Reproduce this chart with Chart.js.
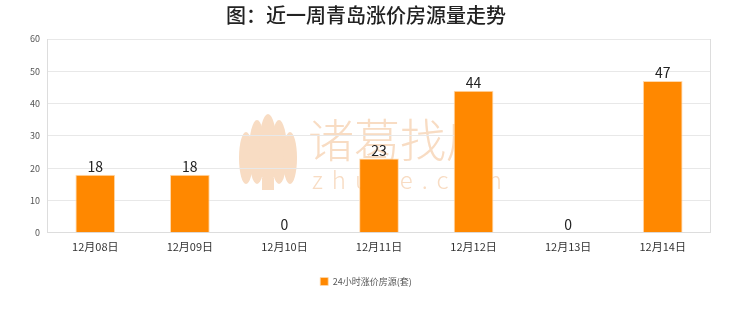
<!DOCTYPE html>
<html lang="zh">
<head>
  <meta charset="UTF-8" />
  <title>近一周青岛涨价房源量走势</title>
  <script src="https://cdn.jsdelivr.net/npm/chart.js"></script>
  <style>
    body { margin: 0; background: #fff; }
  </style>
</head>
<body>
  <canvas id="c" width="740" height="312"></canvas>
<script>
  const days = ['12月08日', '12月09日', '12月10日', '12月11日', '12月12日', '12月13日', '12月14日'];
  const counts = [18, 18, 0, 23, 44, 0, 47];
  const yTicks = [0, 10, 20, 30, 40, 50, 60];

  const font = '"Noto Sans CJK SC", "Noto Sans", sans-serif';

  // faint site watermark behind the plot
  const watermark = {
    id: 'watermark',
    beforeDraw(chart) {
      const ctx = chart.ctx;
      ctx.save();
      ctx.fillStyle = '#f8dcc3';
      // petals
      [[-22, 8, 7, 26], [-11, 2, 8, 32], [0, 0, 9, 36], [11, 2, 8, 32], [22, 8, 7, 26]].forEach(p => {
        ctx.beginPath();
        ctx.ellipse(268 + p[0], 150 + p[1], p[2], p[3], 0, 0, Math.PI * 2);
        ctx.fill();
      });
      ctx.fillRect(262, 178, 12, 12);
      ctx.font = '300 46px ' + font;
      ctx.textAlign = 'left';
      ctx.textBaseline = 'middle';
      ctx.fillText('诸葛找房', 308, 140);
      ctx.font = '300 24px ' + font;
      ctx.letterSpacing = '9px';
      ctx.fillText('zhuge.com', 312, 180);
      ctx.restore();
    }
  };

  // value labels above each bar
  const valueLabels = {
    id: 'valueLabels',
    afterDatasetsDraw(chart) {
      const ctx = chart.ctx;
      const meta = chart.getDatasetMeta(0);
      ctx.save();
      ctx.font = '14px ' + font;
      ctx.fillStyle = '#222';
      ctx.textAlign = 'center';
      ctx.textBaseline = 'bottom';
      meta.data.forEach((bar, i) => {
        ctx.fillText(String(counts[i]), bar.x, bar.y - 1);
      });
      ctx.restore();
    }
  };

  new Chart(document.getElementById('c'), {
    type: 'bar',
    data: {
      labels: days,
      datasets: [{
        label: '24小时涨价房源(套)',
        data: counts,
        backgroundColor: '#ff8800',
        borderColor: '#ffd9ad',
        borderWidth: { left: 1, right: 1, top: 1, bottom: 0 },
        barPercentage: 0.42,
        categoryPercentage: 1
      }]
    },
    options: {
      responsive: false,
      animation: false,
      devicePixelRatio: 1,
      layout: { padding: { left: 22, right: 30, top: 0, bottom: 16 } },
      plugins: {
        title: {
          display: true,
          text: '图：近一周青岛涨价房源量走势',
          color: '#222',
          font: { family: font, size: 20, weight: '500' },
          padding: { top: 3, bottom: 12 }
        },
        legend: {
          position: 'bottom',
          labels: {
            boxWidth: 8,
            boxHeight: 8,
            color: '#555',
            font: { family: font, size: 9 },
            padding: 17
          }
        },
        tooltip: { enabled: false }
      },
      scales: {
        x: {
          grid: { display: false, drawTicks: false },
          border: { color: '#ddd' },
          ticks: { color: '#333', font: { family: font, size: 11 }, padding: 7 }
        },
        y: {
          min: 0,
          max: 60,
          afterBuildTicks(axis) { axis.ticks = yTicks.map(v => ({ value: v })); },
          grid: { color: '#e8e8e8', drawTicks: false },
          border: { color: '#ddd' },
          ticks: { color: '#555', font: { family: font, size: 9 }, padding: 8 }
        }
      }
    },
    plugins: [watermark, valueLabels, {
      id: 'rightBorder',
      afterDraw(chart) {
        const a = chart.chartArea, ctx = chart.ctx;
        ctx.save();
        ctx.strokeStyle = '#ddd';
        ctx.beginPath();
        ctx.moveTo(a.right + 0.5, a.top);
        ctx.lineTo(a.right + 0.5, a.bottom);
        ctx.stroke();
        ctx.restore();
      }
    }]
  });
</script>
</body>
</html>
